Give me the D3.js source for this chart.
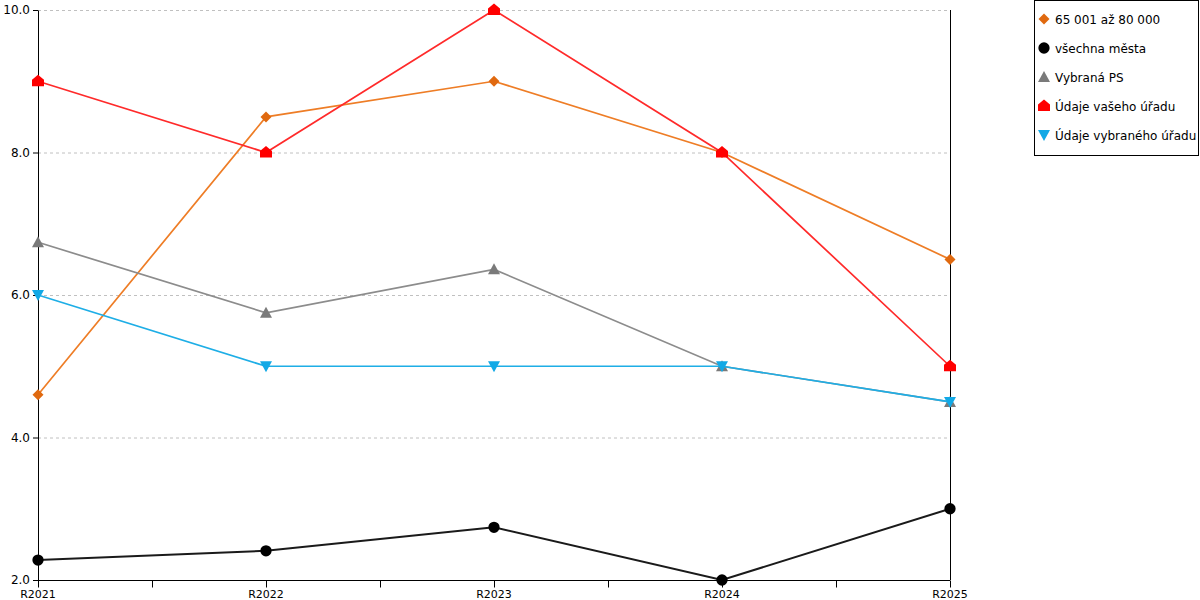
<!DOCTYPE html>
<html>
<head>
<meta charset="utf-8">
<script src="https://cdn.jsdelivr.net/npm/d3@7"></script>
<style>
  body { margin: 0; background: #fff; }
  svg { font-family: 'DejaVu Sans', Verdana, sans-serif; }
</style>
</head>
<body>
<script>
const width = 1200
const height = 600
const margins = { top: 10, bottom: 20, left: 38, right: 250 }

// data
const years = ['R2021', 'R2022', 'R2023', 'R2024', 'R2025']
const yTicks = [2, 4, 6, 8, 10]
const skupina = [4.6, 8.5, 9.0, 8.0, 6.5]
const vsechnaMesta = [2.28, 2.41, 2.74, 2.0, 3.0]
const vybranaPS = [6.74, 5.75, 6.36, 5.0, 4.5]
const vasUrad = [9.0, 8.0, 10.0, 8.0, 5.0]
const vybranyUrad = [6.0, 5.0, 5.0, 5.0, 4.5]

const seriesNames = ['65 001 až 80 000', 'všechna města', 'Vybraná PS', 'Údaje vašeho úřadu', 'Údaje vybraného úřadu']
const seriesValues = [skupina, vsechnaMesta, vybranaPS, vasUrad, vybranyUrad]
const lineColors = ['#ee7d26', '#1a1a1a', '#8c8c8c', '#ff2a2a', '#1eaee6']
const markColors = ['#e0690f', '#000000', '#7a7a7a', '#ff0000', '#12a9e6']
const shapes = ['diamond', 'circle', 'up', 'house', 'down']

const svg = d3.select('body').append('svg')
  .attr('width', width)
  .attr('height', height)

const xScale = d3.scalePoint()
  .domain(years)
  .range([margins.left, width - margins.right])
const yScale = d3.scaleLinear()
  .domain([2, 10])
  .range([height - margins.bottom, margins.top])

// dashed grid
svg.append('g')
  .selectAll('line')
  .data(yTicks.slice(1))
  .enter()
  .append('line')
  .attr('x1', margins.left)
  .attr('x2', width - margins.right)
  .attr('y1', d => yScale(d) + 0.5)
  .attr('y2', d => yScale(d) + 0.5)
  .attr('stroke', '#c0c0c0')
  .attr('stroke-dasharray', '3,3')

// y axis
const yAxis = svg.append('g')
  .attr('transform', `translate(${margins.left},0)`)
  .call(d3.axisLeft(yScale).tickValues(yTicks).tickFormat(d3.format('.1f')).tickSize(5).tickSizeOuter(0))
yAxis.select('.domain').attr('stroke', '#000')
yAxis.selectAll('text').attr('font-size', 12).attr('fill', '#000').attr('font-family', 'DejaVu Sans')

// right border line
svg.append('line')
  .attr('x1', width - margins.right + 0.5)
  .attr('x2', width - margins.right + 0.5)
  .attr('y1', margins.top)
  .attr('y2', height - margins.bottom)
  .attr('stroke', '#000')

// x axis with minor ticks between categories
const step = xScale.step()
const midTicks = years.slice(1).map(y => xScale(y) - step / 2)
const xAxisG = svg.append('g')
  .attr('transform', `translate(0,${height - margins.bottom + 0.5})`)
xAxisG.append('line')
  .attr('x1', margins.left)
  .attr('x2', width - margins.right)
  .attr('stroke', '#000')
xAxisG.selectAll('line.tick')
  .data(years.map(xScale).concat(midTicks))
  .enter()
  .append('line')
  .attr('class', 'tick')
  .attr('x1', d => Math.round(d) + 0.5)
  .attr('x2', d => Math.round(d) + 0.5)
  .attr('y1', 0)
  .attr('y2', 7)
  .attr('stroke', '#000')
xAxisG.selectAll('text')
  .data(years)
  .enter()
  .append('text')
  .attr('x', d => xScale(d))
  .attr('y', 17)
  .attr('text-anchor', 'middle')
  .attr('font-size', 11)
  .text(d => d)

function markerPath(shape) {
  switch (shape) {
    case 'diamond': return 'M0,-5.5L5.5,0L0,5.5L-5.5,0Z'
    case 'up': return 'M0,-6L6,5L-6,5Z'
    case 'down': return 'M0,6L6,-5L-6,-5Z'
    case 'house': return 'M0,-6.5L6,-1.5L6,5L-6,5L-6,-1.5Z'
    default: return d3.symbol(d3.symbolCircle, 100)()
  }
}

const line = d3.line()
  .x((d, i) => xScale(years[i]))
  .y(d => yScale(d))

seriesValues.forEach((vals, s) => {
  const g = svg.append('g')
  g.append('path')
    .datum(vals)
    .attr('d', line)
    .attr('fill', 'none')
    .attr('stroke', lineColors[s])
    .attr('stroke-width', s === 1 ? 2 : 1.7)
  g.selectAll('path.mark')
    .data(vals)
    .enter()
    .append('path')
    .attr('class', 'mark')
    .attr('transform', (d, i) => `translate(${xScale(years[i])},${yScale(d)})`)
    .attr('d', markerPath(shapes[s]))
    .attr('fill', markColors[s])
})

// legend
const legend = svg.append('g')
legend.append('rect')
  .attr('x', 1034.5)
  .attr('y', 0.5)
  .attr('width', 164)
  .attr('height', 155)
  .attr('fill', '#fff')
  .attr('stroke', '#000')
const items = legend.selectAll('g.item')
  .data(seriesNames)
  .enter()
  .append('g')
  .attr('transform', (d, i) => `translate(1044,${19 + i * 29})`)
items.append('path')
  .attr('d', (d, i) => markerPath(shapes[i]))
  .attr('fill', (d, i) => markColors[i])
items.append('text')
  .attr('x', 11)
  .attr('y', 4.5)
  .attr('font-size', 12)
  .text(d => d)
</script>
</body>
</html>
